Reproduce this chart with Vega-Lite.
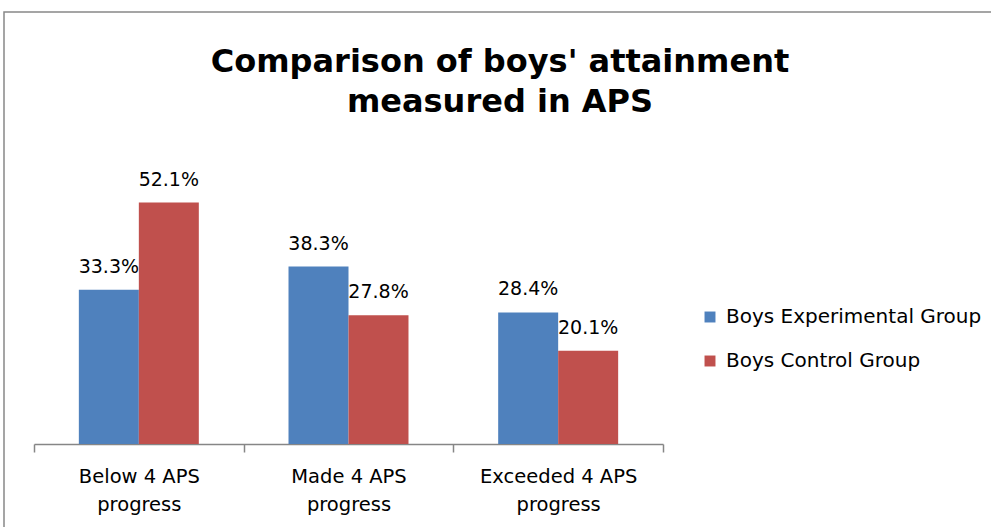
{
  "$schema": "https://vega.github.io/schema/vega-lite/v6.json",
  "width": 1000,
  "height": 530,
  "autosize": {"type": "none"},
  "padding": {"left": 4, "top": 12, "right": 0, "bottom": 0},
  "background": "white",
  "config": {
    "view": {"stroke": "#888888", "strokeWidth": 1.5},
    "font": "DejaVu Sans"
  },
  "title": {
    "text": ["Comparison of boys' attainment", "measured in APS"],
    "font": "DejaVu Sans",
    "fontSize": 32,
    "fontWeight": "bold",
    "color": "#000000",
    "anchor": "middle",
    "orient": "top",
    "baseline": "top",
    "lineHeight": 40,
    "offset": 0,
    "dx": -4,
    "dy": 107
  },
  "data": {
    "values": [
      {"category": "Below 4 APS progress", "group": "Boys Experimental Group", "value": 0.333},
      {"category": "Below 4 APS progress", "group": "Boys Control Group", "value": 0.521},
      {"category": "Made 4 APS progress", "group": "Boys Experimental Group", "value": 0.383},
      {"category": "Made 4 APS progress", "group": "Boys Control Group", "value": 0.278},
      {"category": "Exceeded 4 APS progress", "group": "Boys Experimental Group", "value": 0.284},
      {"category": "Exceeded 4 APS progress", "group": "Boys Control Group", "value": 0.201}
    ]
  },
  "encoding": {
    "x": {
      "field": "category",
      "type": "nominal",
      "sort": null,
      "scale": {"range": [30, 659], "paddingInner": 0, "paddingOuter": 0},
      "axis": {
        "title": null,
        "labelAngle": 0,
        "labelExpr": "datum.value ? [replace(datum.value, ' progress', ''), 'progress'] : ''",
        "labelFont": "DejaVu Sans",
        "labelFontSize": 19.5,
        "labelLineHeight": 28,
        "labelColor": "#000000",
        "labelPadding": 15,
        "domainColor": "#868686",
        "domainWidth": 1.5,
        "tickColor": "#868686",
        "tickWidth": 1.5,
        "tickSize": 8,
        "tickBand": "extent",
        "offset": -98
      }
    },
    "xOffset": {
      "field": "group",
      "type": "nominal",
      "sort": ["Boys Experimental Group", "Boys Control Group"],
      "scale": {"paddingInner": 0, "paddingOuter": 0.7475}
    },
    "y": {
      "field": "value",
      "type": "quantitative",
      "scale": {"domain": [0, 0.6], "range": [432, 154]},
      "axis": null
    }
  },
  "layer": [
    {
      "mark": {"type": "bar"},
      "encoding": {
        "color": {
          "field": "group",
          "type": "nominal",
          "scale": {
            "domain": ["Boys Experimental Group", "Boys Control Group"],
            "range": ["#4F81BD", "#C0504D"]
          },
          "legend": {
            "orient": "none",
            "legendX": 696,
            "legendY": 295,
            "title": null,
            "symbolType": "square",
            "symbolSize": 120,
            "symbolStrokeWidth": 0,
            "labelFont": "DejaVu Sans",
            "labelFontSize": 20,
            "labelColor": "#000000",
            "labelOffset": 6,
            "rowPadding": 24,
            "labelLimit": 400
          }
        }
      }
    },
    {
      "mark": {"type": "text", "baseline": "alphabetic", "dy": -17, "fontSize": 19, "font": "DejaVu Sans", "color": "#000000"},
      "encoding": {
        "text": {"field": "value", "type": "quantitative", "format": ".1%"}
      }
    }
  ]
}
